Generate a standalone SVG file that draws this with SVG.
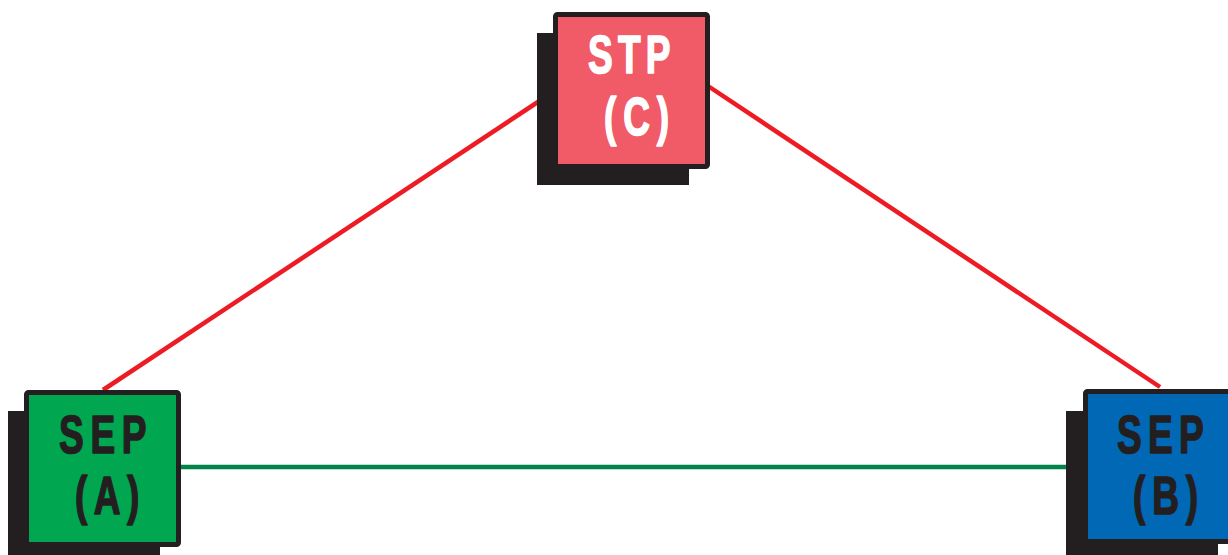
<svg xmlns="http://www.w3.org/2000/svg" width="1228" height="555" viewBox="0 0 1228 555">
  <style>
    .shadow { fill: #231F20; }
    .box { stroke: #231F20; stroke-width: 5; }
    .lbl { font-family: "Liberation Sans", "DejaVu Sans", sans-serif; font-weight: bold; font-size: 53px; stroke-width: 1.6; stroke-linejoin: round; }
    .dark { fill: #231F20; stroke: #231F20; }
    .light { fill: #FFFFFF; stroke: #FFFFFF; }
    .red { stroke: #ED1C24; stroke-width: 4.5; fill: none; }
    .green { stroke: #00844A; stroke-width: 4.5; fill: none; }
  </style>
  <rect width="1228" height="555" fill="#FFFFFF"/>
  <g id="connectors">
    <line class="red" x1="103" y1="390" x2="556" y2="90"/>
    <line class="red" x1="705" y1="84" x2="1160" y2="387"/>
    <line class="green" x1="180" y1="467" x2="1084" y2="467"/>
  </g>
  <!-- labels are drawn in a horizontally condensed heavy face -->
  <g id="node-stp">
    <rect class="shadow" x="537" y="33" width="152" height="152"/>
    <rect class="box" x="555.5" y="14.5" width="152" height="152" rx="2" fill="#F15B67"/>
    <text class="lbl light" transform="translate(588,73) scale(0.7,1)" textLength="118" lengthAdjust="spacing">STP</text>
    <text class="lbl light" transform="translate(604,135) scale(0.7,1)" textLength="93" lengthAdjust="spacing">(C)</text>
  </g>
  <g id="node-sep-a">
    <rect class="shadow" x="8" y="411" width="152" height="152"/>
    <rect class="box" x="26.5" y="392.5" width="152" height="152" rx="2" fill="#00A650"/>
    <text class="lbl dark" transform="translate(59,453) scale(0.7,1)" textLength="125" lengthAdjust="spacing">SEP</text>
    <text class="lbl dark" transform="translate(75,514) scale(0.7,1)" textLength="92" lengthAdjust="spacing">(A)</text>
  </g>
  <g id="node-sep-b">
    <rect class="shadow" x="1066" y="411" width="152" height="152"/>
    <rect class="box" x="1085.5" y="391.5" width="152" height="150" rx="2" fill="#0068B4"/>
    <text class="lbl dark" transform="translate(1117,453) scale(0.7,1)" textLength="124" lengthAdjust="spacing">SEP</text>
    <text class="lbl dark" transform="translate(1133,514) scale(0.7,1)" textLength="93" lengthAdjust="spacing">(B)</text>
  </g>
</svg>
